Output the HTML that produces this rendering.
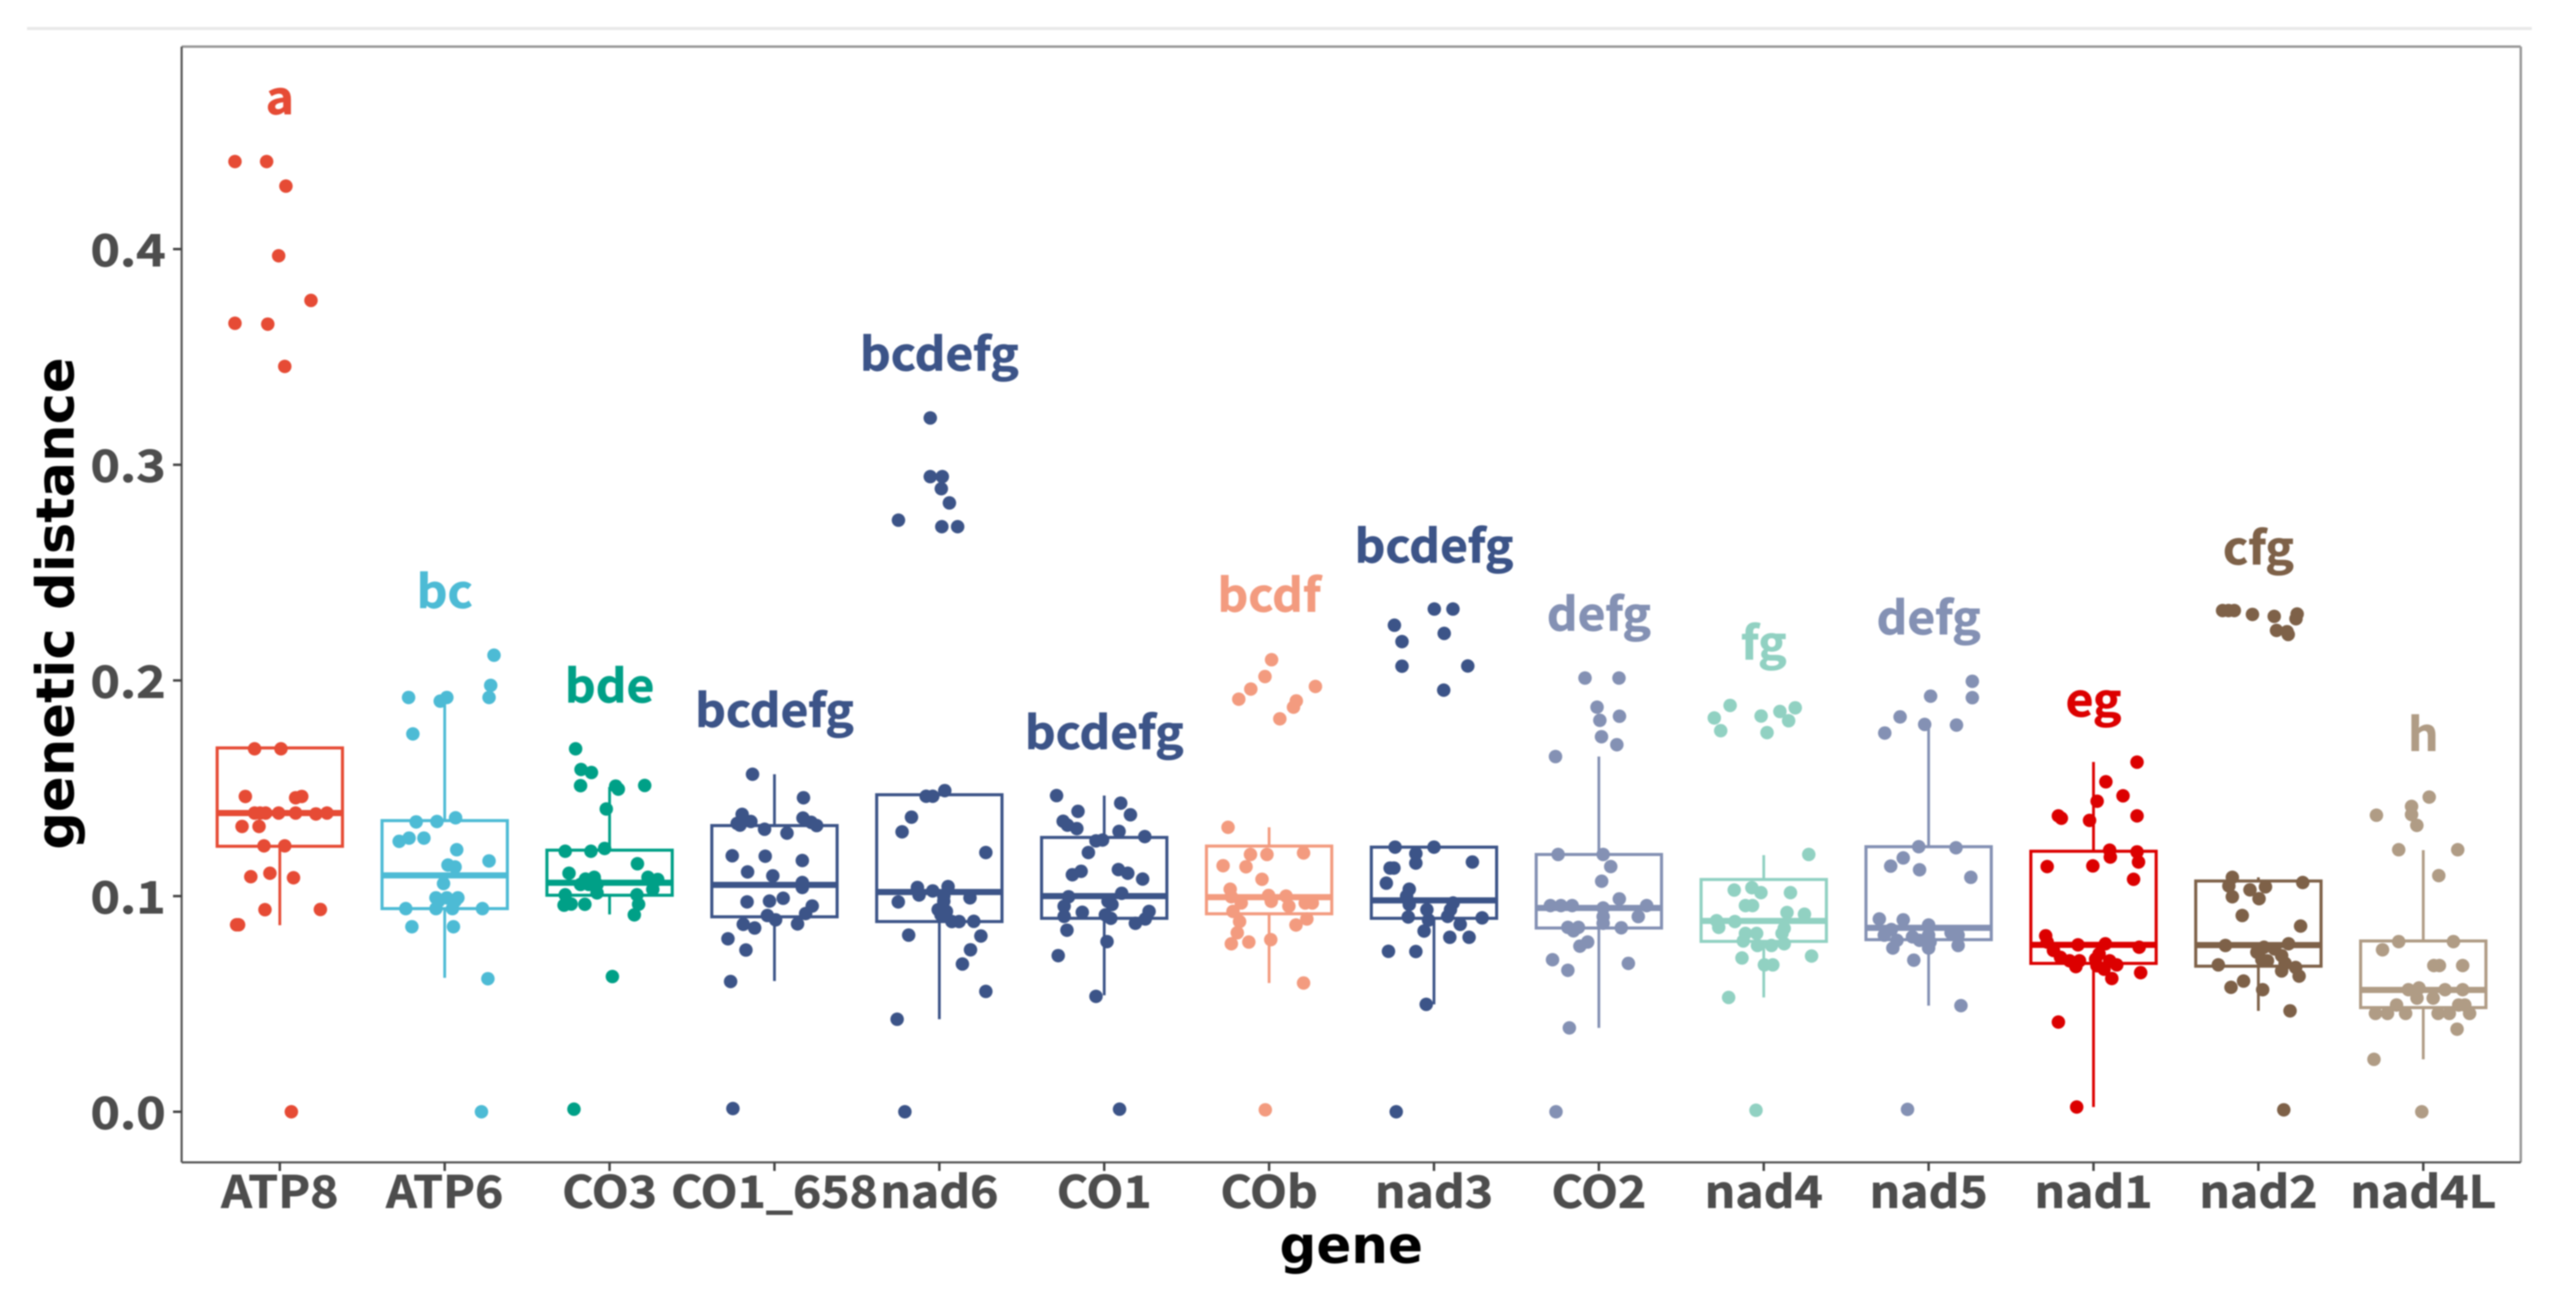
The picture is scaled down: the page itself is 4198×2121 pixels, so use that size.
<!DOCTYPE html>
<html lang="en">
<head>
<meta charset="utf-8">
<title>Genetic distance by gene</title>
<style>
html,body{margin:0;padding:0;background:#fff;width:4198px;height:2121px;overflow:hidden}
svg{display:block;filter:blur(1px)}
.tick{font-family:"Noto Sans CJK SC","Liberation Sans",sans-serif;font-weight:700;fill:#4d4d4d;stroke:#4d4d4d;stroke-width:1px}
.sig{font-family:"Noto Sans CJK SC","Liberation Sans",sans-serif;font-weight:700}
.title{font-family:"DejaVu Sans","Liberation Sans",sans-serif;font-weight:700;fill:#000}
</style>
</head>
<body>
<svg id="chart" xmlns="http://www.w3.org/2000/svg" width="4198" height="2121" viewBox="0 0 4198 2121">
<rect x="0" y="0" width="4198" height="2121" fill="#ffffff"/>
<rect x="44" y="44" width="4082" height="5" fill="#e9e9e9"/>
<g id="plot"></g>
<text class="title" x="2202" y="2059" font-size="84" text-anchor="middle">gene</text>
<text class="title" x="120" y="984" font-size="86" text-anchor="middle" transform="rotate(-90 120 984)">genetic distance</text>
</svg>
<script>
const genes = ["ATP8","ATP6","CO3","CO1_658","nad6","CO1","COb","nad3","CO2","nad4","nad5","nad1","nad2","nad4L"];
const geneColors = ["#E64B35","#4DBBD5","#00A087","#3C5488","#3C5488","#3C5488","#F39B7F","#3C5488","#8491B4","#91D1C2","#8491B4","#DC0000","#7E6148","#B09C85"];
const sigLetters = ["a","bc","bde","bcdefg","bcdefg","bcdefg","bcdf","bcdefg","defg","fg","defg","eg","cfg","h"];
const sigLevels = [0.4626,0.2336,0.1899,0.1784,0.3437,0.1682,0.2320,0.2547,0.2231,0.2098,0.2214,0.1833,0.2538,0.1674];
const q1Values = [0.1231,0.0942,0.1004,0.0904,0.0882,0.0897,0.0918,0.0897,0.0852,0.0790,0.0798,0.0688,0.0675,0.0483];
const medianValues = [0.1385,0.1096,0.1062,0.1052,0.1019,0.1000,0.0995,0.0980,0.0945,0.0885,0.0853,0.0774,0.0773,0.0565];
const q3Values = [0.1687,0.1350,0.1213,0.1327,0.1470,0.1272,0.1232,0.1227,0.1193,0.1077,0.1229,0.1208,0.1070,0.0792];
const whiskerLow = [0.0865,0.0621,0.0915,0.0606,0.0429,0.0540,0.0597,0.0498,0.0389,0.0530,0.0492,0.0022,0.0468,0.0243];
const whiskerHigh = [0.1687,0.1910,0.1506,0.1565,0.1470,0.1466,0.1319,0.1227,0.1647,0.1190,0.1796,0.1622,0.1087,0.1213];
const yTicks = [0,0.1,0.2,0.3,0.4];
const yTickLabels = ["0.0","0.1","0.2","0.3","0.4"];

const atp8Values = [.4406,.4406,.4292,.3969,.3762,.3656,.3652,.3456,.1683,.1683,.1462,.1456,.1462,.1385,.1385,.1385,.1385,.1385,.1385,.1381,.1323,.1323,.1233,.1233,.109,.1106,.1085,.0937,.0938,.0867,.0867,0];
const atp8Jitter = [-.272,-.08,.037,-.007,.189,-.272,-.073,.03,-.153,.007,-.209,.096,.133,-.153,-.12,-.086,-.007,.096,.286,.219,-.229,-.126,-.096,.03,-.176,-.06,.083,-.09,.246,-.262,-.25,.07];
const atp6Values = [.2117,.1977,.1921,.1921,.1904,.1921,.1752,.1344,.1346,.1363,.1254,.1269,.1269,.1215,.1163,.1144,.1135,.1058,.0992,.0992,.0992,.0977,.0977,.0942,.0942,.0942,.0942,.0858,.0858,.0617,0];
const atp6Jitter = [.299,.279,.269,-.219,-.027,.013,-.193,-.173,-.047,.066,-.276,-.216,-.126,.073,.269,.02,.063,-.007,-.053,.08,.013,-.037,.063,-.236,-.053,.047,.229,-.199,.053,.262,.223];
const co3Values = [.1683,.1587,.1573,.1512,.151,.1496,.1513,.1404,.1208,.1208,.1221,.115,.1106,.1079,.1087,.1054,.1054,.1054,.1087,.1077,.1031,.1006,.1015,.1006,.0958,.0963,.0962,.0962,.0913,.0627,.0012];
const co3Jitter = [-.206,-.173,-.11,-.176,.037,.053,.213,-.02,-.269,-.113,-.03,.169,-.246,-.146,-.093,-.176,-.126,-.076,.233,.292,.262,-.269,-.076,.166,-.276,-.233,-.15,.176,.15,.017,-.216];
const co1658Values = [.1565,.1456,.1379,.1337,.1346,.1362,.1342,.1327,.1329,.131,.1292,.1187,.1185,.1165,.1112,.1094,.1063,.104,.0973,.0977,.099,.0954,.0919,.091,.089,.0871,.0869,.0852,.0802,.075,.0604,.0015];
const co1658Jitter = [-.133,.176,-.196,-.226,-.143,.173,.223,.256,-.209,-.06,.076,-.256,-.056,.169,-.163,-.01,.169,.169,-.166,-.03,.053,.229,.189,-.043,.007,.14,-.189,-.12,-.282,-.173,-.266,-.252];
const nad6Values = [.3217,.2945,.2945,.2889,.2823,.2743,.2713,.2713,.1489,.1463,.1463,.1366,.1298,.1202,.104,.1024,.1044,.1005,.1,.0992,.0973,.0976,.0937,.0929,.0913,.0882,.0882,.0883,.0819,.0815,.0751,.0685,.0558,.0429,0];
const nad6Jitter = [-.055,-.055,.018,.012,.061,-.248,.015,.111,.033,-.04,-.08,-.169,-.226,.282,-.133,-.04,.053,-.123,.027,.186,-.249,.027,-.007,.043,.01,.076,.12,.209,-.186,.252,.189,.14,.282,-.256,-.209];
const co1Values = [.1466,.1431,.1393,.1377,.1347,.1329,.1313,.13,.1276,.1256,.126,.1202,.1115,.1099,.1123,.1106,.1079,.1013,.0997,.0953,.0976,.0961,.0925,.0929,.0906,.0913,.0897,.0894,.0874,.0842,.0789,.0724,.0535,.0012];
const co1Jitter = [-.289,.1,-.159,.159,-.249,-.223,-.166,.09,.246,-.05,-.01,-.096,-.14,-.193,.086,.143,.233,.106,-.216,-.243,.023,.047,-.133,.272,-.243,.007,.04,.249,.189,-.226,.017,-.279,-.05,.093];
const cobValues = [.2096,.2018,.196,.1913,.1972,.1905,.1876,.1822,.1319,.1193,.1193,.12,.1141,.1136,.1078,.1032,.0997,.1003,.1,.0976,.0968,.0968,.0968,.0953,.0929,.0894,.0882,.0866,.083,.0787,.0798,.0779,.0597,.0009];
const cobJitter = [.015,-.025,-.111,-.184,.281,.165,.148,.065,-.249,-.113,-.013,.209,-.279,-.14,-.043,-.236,-.229,-.003,.103,.013,-.169,.219,.262,.12,-.219,.229,-.179,.163,-.193,-.123,.01,-.229,.209,-.023];
const nad3Values = [.2331,.2331,.2256,.2218,.218,.2066,.2067,.1955,.1227,.1227,.1197,.1153,.1158,.113,.113,.106,.1032,.1,.0961,.0968,.0937,.0937,.0903,.0906,.0899,.0889,.0869,.0838,.0809,.0809,.0744,.0743,.0498,0];
const nad3Jitter = [.002,.115,-.24,.062,-.194,-.194,.205,.059,-.236,0,-.11,-.11,.233,-.243,-.266,-.289,-.15,-.166,-.15,.116,-.043,.1,-.156,.083,.292,-.033,.159,-.06,.096,.213,-.276,-.11,-.047,-.229];
const co2Values = [.2011,.2011,.1876,.1815,.1834,.1739,.1702,.1647,.1193,.1193,.1137,.1069,.0987,.0956,.0956,.0956,.0945,.0956,.0905,.0905,.0874,.0853,.0855,.0855,.0839,.0787,.0768,.0705,.0688,.0656,.0389,0];
const co2Jitter = [-.084,.122,-.011,.006,.125,.016,.109,-.263,-.247,.026,.072,.017,.124,-.294,-.23,-.162,.026,.29,.239,.026,.026,.136,-.188,-.124,-.154,-.068,-.115,-.281,.179,-.188,-.179,-.26];
const nad4Values = [.1884,.1826,.1835,.1856,.1873,.1813,.1767,.1758,.1193,.1028,.1039,.1016,.1016,.0956,.0956,.0924,.0916,.0886,.0882,.0855,.085,.0827,.0827,.0827,.0792,.0771,.0771,.0779,.0722,.0713,.0681,.0681,.053,.0007];
const nad4Jitter = [-.204,-.3,-.016,.098,.191,.151,-.261,.02,.273,-.179,-.072,-.017,.162,-.111,-.068,.141,.247,-.286,-.175,-.273,.124,-.111,-.043,.111,-.124,-.038,.047,.124,.29,-.132,.004,.055,-.213,-.047];
const nad5Values = [.1996,.192,.1927,.1831,.1796,.1793,.1756,.1229,.1224,.1177,.1139,.1122,.1087,.0894,.089,.0866,.0845,.083,.0819,.0811,.0819,.0819,.0795,.0795,.0787,.0771,.0759,.0759,.0703,.0492,.0011];
const nad5Jitter = [.265,.265,.012,-.173,-.024,.169,-.266,-.06,.166,-.154,-.23,-.055,.256,-.299,-.154,0,-.226,.136,-.269,-.098,0,.179,-.192,-.055,.009,.179,-.217,0,-.09,.196,-.128];
const nad1Values = [.1621,.153,.1465,.144,.1372,.1361,.1372,.1351,.1213,.1205,.1181,.1158,.1137,.114,.1078,.0816,.0787,.0774,.0779,.0763,.0748,.0732,.0716,.0708,.07,.07,.07,.0673,.0677,.0681,.0661,.0618,.0645,.0416,.0022];
const nad1Jitter = [.264,.075,.179,.022,-.213,-.195,.264,-.024,.098,.264,.102,.273,-.281,-.004,.243,-.29,-.281,-.094,.072,.277,-.243,.034,-.2,.013,-.145,-.085,.098,-.107,.021,.141,.064,.111,.286,-.213,-.102];
const nad2Values = [.2324,.2324,.2324,.2306,.2297,.2308,.2286,.2232,.2226,.2213,.1087,.1047,.1063,.1043,.1029,.0997,.0988,.091,.0861,.0771,.0779,.0763,.074,.0755,.0724,.07,.0705,.0681,.0688,.0669,.0653,.0629,.0606,.0577,.0566,.0468,.0009];
const nad2Jitter = [-.217,-.146,-.181,-.036,.096,.235,.228,.11,.174,.181,-.158,-.179,.269,.043,-.051,-.158,.004,-.098,.256,-.2,.183,.034,-.009,.098,.141,.055,.021,-.243,.162,.226,.141,.247,-.09,-.166,.026,.192,.154];
const nad4lValues = [.1459,.1416,.1375,.1378,.1328,.1215,.1215,.1095,.0789,.0789,.0751,.0678,.0678,.0678,.0566,.0574,.0566,.0566,.0527,.0527,.0495,.0495,.0495,.0456,.0456,.0456,.0456,.0456,.0456,.0383,.0243,0];
const nad4lJitter = [.036,-.071,-.284,-.071,-.039,-.149,.209,.094,-.149,.183,-.247,.064,.098,.239,-.09,-.026,.132,.239,-.038,.06,-.162,.252,.215,-.29,-.217,-.107,.09,.158,.281,.205,-.299,-.009];

const seriesValues = [atp8Values,atp6Values,co3Values,co1658Values,nad6Values,co1Values,cobValues,nad3Values,co2Values,nad4Values,nad5Values,nad1Values,nad2Values,nad4lValues];
const seriesJitter = [atp8Jitter,atp6Jitter,co3Jitter,co1658Jitter,nad6Jitter,co1Jitter,cobJitter,nad3Jitter,co2Jitter,nad4Jitter,nad5Jitter,nad1Jitter,nad2Jitter,nad4lJitter];

const NS = "http://www.w3.org/2000/svg";
const panel = {left:296, right:4108, top:76, bottom:1895};
function xScale(pos){ return 456 + 268.7 * pos; }
function yScale(v){ return 1812.5 - 3516 * v; }
const boxHalf = 0.38;
function mk(tag, attrs, parent){
  const el = document.createElementNS(NS, tag);
  for (const k in attrs) el.setAttribute(k, attrs[k]);
  parent.appendChild(el);
  return el;
}
const plot = document.getElementById("plot");

const spineTop = mk("line",{x1:panel.left,x2:panel.right,y1:panel.top,y2:panel.top,stroke:"#999999","stroke-width":4},plot);


const spineRight = mk("line",{x1:panel.right,x2:panel.right,y1:panel.top,y2:panel.bottom,stroke:"#999999","stroke-width":4},plot);


const spineLeft = mk("line",{x1:panel.left,x2:panel.left,y1:panel.top,y2:panel.bottom,stroke:"#555555","stroke-width":3.5},plot);


const spineBottom = mk("line",{x1:panel.left,x2:panel.right,y1:panel.bottom,y2:panel.bottom,stroke:"#555555","stroke-width":3.5},plot);



yTicks.forEach(function(t, i){
  const tick = mk("line",{x1:panel.left-14,x2:panel.left,y1:yScale(t),y2:yScale(t),stroke:"#444444","stroke-width":4},plot);
  
  
  const lab = mk("text",{"text-anchor":"end","font-size":72,"class":"tick",transform:"translate(270 "+(yScale(t)+28)+") scale(1.13 1)"},plot);
  
  
  lab.textContent = yTickLabels[i];
});

genes.forEach(function(g, i){
  const cx = xScale(i), col = geneColors[i];
  const tick = mk("line",{x1:cx,x2:cx,y1:panel.bottom,y2:panel.bottom+14,stroke:"#444444","stroke-width":4},plot);
  
  
  const lab = mk("text",{"text-anchor":"middle","font-size":72,"class":"tick",transform:"translate("+cx+" 1969) scale(1.085 1)"},plot);
  
  
  lab.textContent = g;

  const group = mk("g",{},plot);
  
  

  const upper = mk("line",{x1:cx,x2:cx,y1:yScale(q3Values[i]),y2:yScale(whiskerHigh[i]),stroke:col,"stroke-width":4.5},group);
  
  
  const lower = mk("line",{x1:cx,x2:cx,y1:yScale(q1Values[i]),y2:yScale(whiskerLow[i]),stroke:col,"stroke-width":4.5},group);
  
  
  const box = mk("rect",{x:xScale(i-boxHalf),width:xScale(i+boxHalf)-xScale(i-boxHalf),y:yScale(q3Values[i]),height:yScale(q1Values[i])-yScale(q3Values[i]),fill:"none",stroke:col,"stroke-width":5},group);
  
  
  const med = mk("line",{x1:xScale(i-boxHalf),x2:xScale(i+boxHalf),y1:yScale(medianValues[i]),y2:yScale(medianValues[i]),stroke:col,"stroke-width":10},group);
  
  

  seriesValues[i].forEach(function(v, k){
    const c = mk("circle",{cx:xScale(i+seriesJitter[i][k]),cy:yScale(v),r:11,fill:col},group);
    
    
  });

  const sig = mk("text",{"text-anchor":"middle","font-size":74,"class":"sig",fill:col,stroke:col,"stroke-width":1,transform:"translate("+cx+" "+yScale(sigLevels[i])+") scale(1.055 1)"},group);
  
  
  sig.textContent = sigLetters[i];
});
</script>
</body>
</html>
